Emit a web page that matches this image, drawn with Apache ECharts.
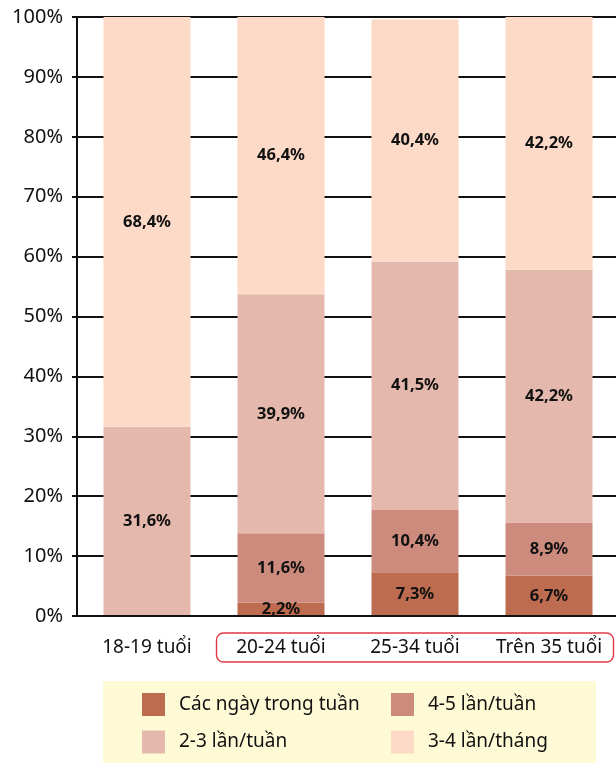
<!DOCTYPE html>
<html>
<head>
<meta charset="utf-8">
<script src="https://cdn.jsdelivr.net/npm/echarts@6/dist/echarts.min.js"></script>
<style>
  html, body { margin: 0; padding: 0; background: #fff; }
  #chart { width: 616px; height: 763px; }
</style>
</head>
<body>
<div id="chart"></div>
<script>
// Age groups on the x axis
const categories = ['18-19 tuổi', '20-24 tuổi', '25-34 tuổi', 'Trên 35 tuổi'];

// Share of respondents (%) per frequency, stacked bottom to top
const weekdays   = [null, 2.2, 7.3, 6.7];     // Các ngày trong tuần
const fourFive   = [null, 11.6, 10.4, 8.9];   // 4-5 lần/tuần
const twoThree   = [31.6, 39.9, 41.5, 42.2];  // 2-3 lần/tuần
const perMonth   = [68.4, 46.4, 40.4, 42.2];  // 3-4 lần/tháng

const seriesNames = ['Các ngày trong tuần', '4-5 lần/tuần', '2-3 lần/tuần', '3-4 lần/tháng'];
const seriesColors = ['#be6c4f', '#cc8b7c', '#e4b8ac', '#fddac8'];
const seriesData = [weekdays, fourFive, twoThree, perMonth];

const yTicks = { min: 0, max: 100, interval: 10 };

const FONT_BOLD = '"Noto Sans", "Open Sans", sans-serif';
const FONT_REG = '"Noto Sans", "Open Sans", sans-serif';
const INK = '#111';

const chart = echarts.init(document.getElementById('chart'), null, { renderer: 'canvas' });

const fmtPct = v => v.toFixed(1).replace('.', ',') + '%';

const legendBase = {
  orient: 'vertical', top: 693,
  itemWidth: 23, itemHeight: 23, itemGap: 14.5,
  icon: 'rect', padding: 0,
  textStyle: { fontFamily: FONT_REG, fontSize: 19, color: INK, padding: [0, 0, 0, 9] }
};

const option = {
  animation: false,
  backgroundColor: '#ffffff',
  grid: { left: 80, top: 17, width: 538, height: 599, containLabel: false },
  graphic: [
    // legend panel
    {
      type: 'rect', z: -1, silent: true,
      shape: { x: 103, y: 681, width: 493, height: 82 },
      style: { fill: '#fffad6' }
    },
    // highlight frame around the three older groups
    {
      type: 'rect', z: 10, silent: true,
      shape: { x: 216.5, y: 633, width: 397, height: 29, r: 7 },
      style: { fill: 'none', stroke: '#e23a46', lineWidth: 1.4 }
    }
  ],
  legend: [
    Object.assign({}, legendBase, { data: [seriesNames[0], seriesNames[2]], left: 142 }),
    Object.assign({}, legendBase, { data: [seriesNames[1], seriesNames[3]], left: 391 })
  ],
  xAxis: {
    type: 'category',
    data: categories,
    axisLine: { show: true, lineStyle: { color: INK, width: 2 } },
    axisTick: { show: false },
    axisLabel: { interval: 0, hideOverlap: false, fontFamily: FONT_REG, fontSize: 19, color: INK, margin: 22 },
    z: 5
  },
  yAxis: [
    {
      type: 'value',
      min: yTicks.min, max: yTicks.max, interval: yTicks.interval,
      axisLine: { show: false },
      axisTick: { show: true, length: 8, lineStyle: { color: INK, width: 2 } },
      axisLabel: { formatter: '{value}%', fontFamily: FONT_REG, fontSize: 20, color: INK, margin: 17 },
      splitLine: { show: true, lineStyle: { color: INK, width: 2 } }
    },
    {
      type: 'value', position: 'left', offset: 3,
      min: yTicks.min, max: yTicks.max, interval: yTicks.interval,
      axisLine: { show: true, lineStyle: { color: INK, width: 2 } },
      axisTick: { show: false },
      axisLabel: { show: false },
      splitLine: { show: false }
    }
  ],
  series: seriesNames.map((name, i) => ({
    name,
    type: 'bar',
    stack: 'total',
    barWidth: 87,
    data: seriesData[i],
    itemStyle: { color: seriesColors[i] },
    label: {
      show: true,
      position: 'inside',
      fontFamily: FONT_BOLD,
      fontWeight: 'bold',
      fontSize: 16.5,
      color: INK,
      formatter: p => (p.value == null ? '' : fmtPct(p.value))
    },
    z: 3
  }))
};

chart.setOption(option);
</script>
</body>
</html>
